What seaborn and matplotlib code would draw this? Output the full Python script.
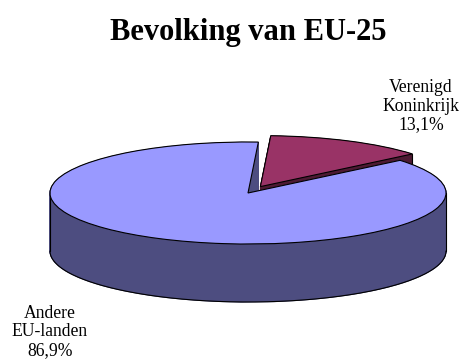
import numpy as np
import matplotlib
matplotlib.use("Agg")
import matplotlib.pyplot as plt
import seaborn as sns

# ---- data ----
title = "Bevolking van EU-25"
categories = ["Verenigd\nKoninkrijk", "Andere\nEU-landen"]
shares = [13.1, 86.9]
pct_labels = ["13,1%", "86,9%"]
top_colors = ["#993366", "#9999FF"]
side_colors = ["#4D1A33", "#4D4D80"]
explode = [0.14, 0.0]

sns.set_theme(style="white")
plt.rcParams["font.family"] = ["Liberation Serif", "DejaVu Serif"]
plt.rcParams["text.color"] = "black"

W, H = 464, 361
fig = plt.figure(figsize=(W / 100, H / 100), dpi=100)
ax = fig.add_axes([0, 0, 1, 1])

start = 87
depth = 58 / 51.0  # in radius units of the (squashed) y axis

pie_kw = dict(startangle=start, counterclock=False, explode=explode)

# side walls: stacked layers of the same pie shifted downward
for off in np.linspace(depth, 0.0, 140)[:-1]:
    wedges, _ = ax.pie(shares, colors=side_colors, center=(0, -off), **pie_kw)
    for i, w in enumerate(wedges):
        w.set_edgecolor(side_colors[i])
        w.set_linewidth(0.8)
        w.set_zorder(1 + i)

# outline of the side walls
th = np.linspace(np.pi, 2 * np.pi, 300)
ax.plot(np.cos(th), np.sin(th) - depth, color="black", lw=0.8, zorder=4)
for sx in (-1, 1):
    ax.plot([sx, sx], [0, -depth], color="black", lw=0.8, zorder=4)

# vertical edge at the outer corner of the exploded slice
mid = np.deg2rad(start - shares[0] / sum(shares) * 180)
end = np.deg2rad(start - shares[0] / sum(shares) * 360)
cx = explode[0] * np.cos(mid) + np.cos(end)
cy = explode[0] * np.sin(mid) + np.sin(end)
ax.plot([cx, cx], [cy, cy - depth], color="black", lw=0.8, zorder=4)

# top faces
wedges, _ = ax.pie(shares, colors=top_colors, center=(0, 0),
                   wedgeprops=dict(edgecolor="black", linewidth=0.8), **pie_kw)
for w in wedges:
    w.set_zorder(6)

# squash the pie into an ellipse
ax.set_aspect("auto")
ax.set_xlim(-248 / 198, (W - 248) / 198)
ax.set_ylim(-(H - 193) / 51, 193 / 51)
ax.axis("off")

fig.text(248.5 / W, 1 - 40 / H, title, ha="center", va="baseline",
         fontsize=22, fontweight="bold", color="black")
fig.text(421 / W, 1 - 106 / H, categories[0] + "\n" + pct_labels[0],
         ha="center", va="center", fontsize=12.7, linespacing=1.12,
         color="black")
fig.text(50 / W, 1 - 332 / H, categories[1] + "\n" + pct_labels[1],
         ha="center", va="center", fontsize=12.7, linespacing=1.1,
         color="black")

fig.savefig("out.png", dpi=100, facecolor="white")
